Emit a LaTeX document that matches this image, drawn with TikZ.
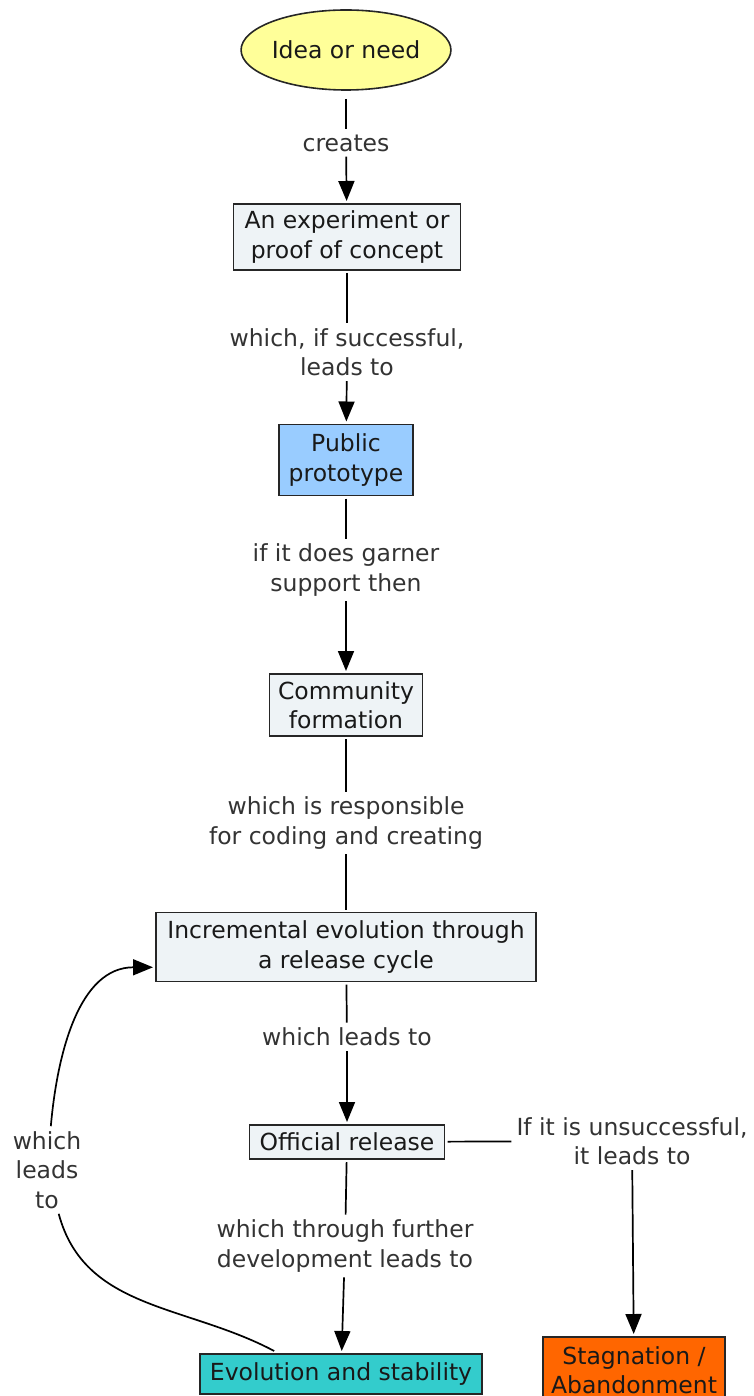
\documentclass[tikz,border=0pt]{standalone}
\usepackage{fontspec}
\setmainfont{DejaVu Sans}
\usetikzlibrary{shapes.geometric,arrows.meta}

\definecolor{boxfill}{HTML}{EEF3F6}
\definecolor{ideafill}{HTML}{FFFF99}
\definecolor{protofill}{HTML}{99CCFF}
\definecolor{evofill}{HTML}{33CCCC}
\definecolor{stagfill}{HTML}{FF6600}
\definecolor{linktext}{HTML}{333333}

\begin{document}
\begin{tikzpicture}[x=1pt, y=1pt,
	concept/.style={draw=black!85, fill=boxfill, line width=1.6pt, align=center,
		inner xsep=8pt, inner ysep=6pt, outer sep=3pt, text=black!90,
		font=\fontsize{23.5}{29.5}\selectfont},
	link/.style={align=center, text=linktext, inner sep=5pt,
		font=\fontsize{23.5}{29.5}\selectfont},
	conn/.style={line width=1.7pt},
	arr/.style={conn, -{Triangle[width=16pt,length=20pt]}}]
	
	\useasboundingbox (0,0) rectangle (753,-1396);
	
	% concepts
	\node[concept, ellipse, fill=ideafill, minimum width=190, minimum height=80,
		inner sep=0pt, outer sep=9pt] (idea) at (346,-50) {Idea or need};
	\node[concept, minimum width=227, minimum height=66] (exp) at (347,-237) {An experiment or\\proof of concept};
	\node[concept, fill=protofill, minimum width=134, minimum height=71] (pub) at (346,-460) {Public\\prototype};
	\node[concept, minimum width=153, minimum height=62] (comm) at (346,-705) {Community\\formation};
	\node[concept, minimum width=380, minimum height=69] (inc) at (346,-947) {Incremental evolution through\\a release cycle};
	\node[concept, minimum width=195, minimum height=34] (rel) at (347,-1142) {Official release};
	\node[concept, fill=evofill, minimum width=282, minimum height=40] (evo) at (341,-1374) {Evolution and stability};
	\node[concept, fill=stagfill, minimum width=181, minimum height=66] (stag) at (634,-1370) {Stagnation /\\Abandonment};
	
	% linking phrases
	\node[link] (l1) at (346,-143) {creates};
	\node[link] (l2) at (347,-352) {which, if successful,\\leads to};
	\node[link] (l3) at (346,-570) {if it does garner\\support then};
	\node[link] (l4) at (346,-823) {which is responsible\\for coding and creating};
	\node[link] (l5) at (347,-1037) {which leads to};
	\node[link] (l6) at (632,-1141) {If it is unsuccessful,\\it leads to};
	\node[link] (l7) at (345,-1246) {which through further\\development leads to};
	\node[link] (l8) at (47,-1170) {which\\leads\\to};
	
	% connectors
	\draw[conn] (idea) -- (l1);
	\draw[arr] (l1) -- (exp);
	\draw[conn] (exp) -- (l2);
	\draw[arr] (l2) -- (pub);
	\draw[conn] (pub) -- (l3);
	\draw[arr] (l3) -- (comm);
	\draw[conn] (comm) -- (l4);
	\draw[conn] (l4) -- (inc);
	\draw[conn] (inc) -- (l5);
	\draw[arr] (l5) -- (rel);
	\draw[conn] (rel) -- (l6);
	\draw[arr] (l6) -- (stag);
	\draw[conn] (rel) -- (l7);
	\draw[arr] (l7) -- (evo);
	\draw[conn] (evo.161) to[out=152, in=-75] (l8);
	\draw[arr] (l8) to[out=85, in=180] (inc.186);
	
\end{tikzpicture}
\end{document}
